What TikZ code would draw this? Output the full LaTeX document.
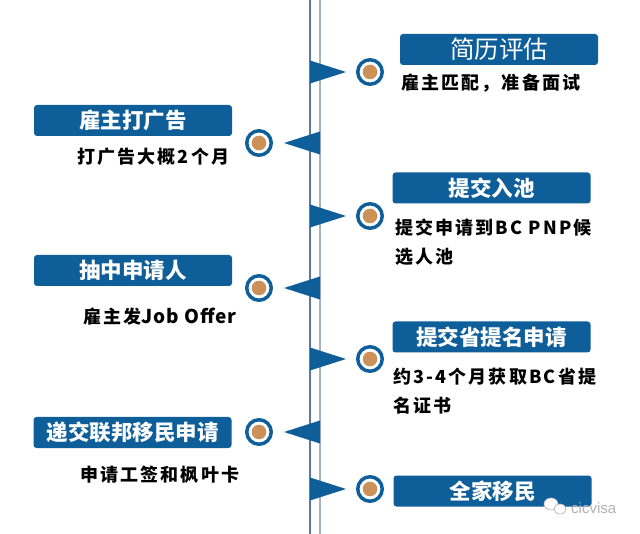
\documentclass[tikz,border=0pt]{standalone}
\usepackage{fontspec}
\setmainfont{Noto Sans CJK SC}
\newfontfamily\wmfont{Liberation Sans}
\definecolor{flowblue}{RGB}{14,94,154}
\definecolor{dotorange}{RGB}{203,145,88}
\definecolor{lineblue}{RGB}{90,122,165}
\definecolor{linegray}{RGB}{165,178,198}
\begin{document}
\begin{tikzpicture}[x=1pt,y=-1pt,
  stepbox/.style={fill=flowblue, rounded corners=3pt, minimum width=198pt,
    minimum height=31pt, inner sep=0pt, text=white,
    font=\fontsize{21.5}{24}\selectfont\bfseries},
  note/.style={anchor=west, inner sep=0pt, align=left,
    font=\fontsize{18}{29}\selectfont\bfseries\addfontfeature{LetterSpace=12}},
  dot/.style={circle, minimum size=24.5pt, inner sep=0pt, draw=flowblue,
    line width=3.5pt, fill=white,
    path picture={\fill[dotorange] (path picture bounding box.center) circle (7.3pt);}},
  flag/.style={fill=flowblue},
  ]
\useasboundingbox (0,0) rectangle (640,534);
% timeline
\draw[lineblue, line width=1.2pt] (310,0) -- (310,534);
\draw[linegray, line width=1.6pt] (320,0) -- (320,534);
% flags
\fill[flag] (310,60.5) -- (346,72) -- (310,83.5) -- cycle;
\fill[flag] (320,131.5) -- (284,143) -- (320,154.5) -- cycle;
\fill[flag] (310,204.5) -- (346,216) -- (310,227.5) -- cycle;
\fill[flag] (320,276.5) -- (284,288) -- (320,299.5) -- cycle;
\fill[flag] (310,347.5) -- (346,359) -- (310,370.5) -- cycle;
\fill[flag] (320,420.5) -- (284,432) -- (320,443.5) -- cycle;
\fill[flag] (310,477.5) -- (346,489) -- (310,500.5) -- cycle;
% dots
\node[dot] (d1) at (370,72) {};
\node[dot] (d2) at (259,143) {};
\node[dot] (d3) at (370,216) {};
\node[dot] (d4) at (259,288) {};
\node[dot] (d5) at (370,359) {};
\node[dot] (d6) at (259,432) {};
\node[dot] (d7) at (370,489) {};
% step boxes
\node[stepbox, font=\fontsize{24.5}{26}\selectfont] (b1) at (499,49.5) {简历评估};
\node[stepbox] (b2) at (133,120.5) {雇主打广告};
\node[stepbox] (b3) at (491.5,188) {提交入池};
\node[stepbox] (b4) at (133,270.5) {抽中申请人};
\node[stepbox] (b5) at (491.5,337) {提交省提名申请};
\node[stepbox] (b6) at (132.5,432.5) {递交联邦移民申请};
\node[stepbox] (b7) at (492.5,491) {全家移民};
% notes
\node[note] (n1) at (401,83) {雇主匹配，准备面试};
\node[note] (n2) at (77,157) {打广告大概2个月};
\node[note] (n3) at (395,242.5) {提交申请到BC PNP候\\选人池};
\node[note, font=\fontsize{18}{29}\selectfont\bfseries] (n4) at (83,317) {{\addfontfeature{LetterSpace=12}雇主发}{\fontsize{19}{29}\selectfont\addfontfeature{LetterSpace=5}Job Offer}};
\node[note] (n5) at (393,391.5) {约3-4个月获取BC省提\\名证书};
\node[note] (n6) at (80,475) {申请工签和枫叶卡};
% watermark
\draw[gray!55, fill=white, line width=0.7pt] (551,504) ellipse (7pt and 6pt);
\draw[gray!55, fill=white, line width=0.7pt] (560,509) ellipse (6pt and 5pt);
\node[anchor=west, inner sep=0pt, text=gray!60, font=\wmfont\fontsize{15}{17}\selectfont] (wm) at (571,508) {cicvisa};
\end{tikzpicture}
\end{document}
